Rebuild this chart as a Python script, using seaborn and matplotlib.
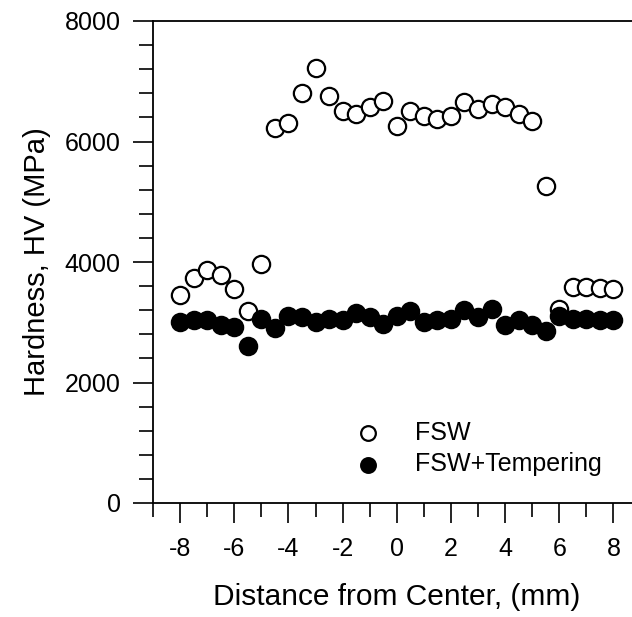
import seaborn as sns
import matplotlib.pyplot as plt
import pandas as pd
from matplotlib.ticker import MultipleLocator

# distance from weld center (mm)
distance = [-8, -7.5, -7, -6.5, -6, -5.5, -5, -4.5, -4, -3.5, -3, -2.5, -2, -1.5, -1, -0.5,
            0, 0.5, 1, 1.5, 2, 2.5, 3, 3.5, 4, 4.5, 5, 5.5, 6, 6.5, 7, 7.5, 8]

hv_fsw = [3460, 3730, 3860, 3790, 3560, 3190, 3970, 6220, 6300, 6800, 7220, 6760, 6500, 6450, 6580, 6670,
          6260, 6500, 6420, 6380, 6420, 6660, 6540, 6620, 6580, 6460, 6340, 5260, 3220, 3590, 3590, 3570, 3560]

hv_temper = [3000, 3040, 3040, 2960, 2920, 2600, 3050, 2910, 3110, 3090, 3000, 3050, 3040, 3160, 3090, 2970,
             3100, 3180, 3000, 3030, 3060, 3200, 3080, 3220, 2960, 3040, 2960, 2850, 3110, 3050, 3050, 3040, 3040]

df = pd.DataFrame({'Distance': distance, 'FSW': hv_fsw, 'FSW+Tempering': hv_temper})

sns.set_style('ticks')
plt.rcParams['font.family'] = ['Liberation Sans', 'DejaVu Sans']
plt.rcParams['axes.unicode_minus'] = False
for key in ['text.color', 'axes.labelcolor', 'xtick.color', 'ytick.color', 'axes.edgecolor']:
    plt.rcParams[key] = 'black'

fig = plt.figure(figsize=(6.32, 6.17), dpi=100)
ax = fig.add_axes([153 / 632, 114 / 617, 487.5 / 632, 482 / 617])

sns.scatterplot(data=df, x='Distance', y='FSW', ax=ax, s=155, color='white',
                edgecolor='black', linewidth=1.6, label='FSW', zorder=3)
sns.scatterplot(data=df, x='Distance', y='FSW+Tempering', ax=ax, s=155, color='black',
                edgecolor='black', linewidth=1.6, label='FSW+Tempering', zorder=4)

ax.set_xlim(-9, 9)
ax.set_ylim(0, 8000)
ax.xaxis.set_major_locator(MultipleLocator(2))
ax.xaxis.set_minor_locator(MultipleLocator(1))
ax.yaxis.set_major_locator(MultipleLocator(2000))
ax.yaxis.set_minor_locator(MultipleLocator(400))
ax.tick_params(which='major', direction='out', length=14.4, width=1.2, labelsize=18)
ax.tick_params(which='minor', direction='out', length=10, width=1.2)
ax.tick_params(axis='x', which='major', pad=10)
ax.tick_params(axis='y', which='major', pad=9)

for side in ['left', 'bottom', 'top']:
    ax.spines[side].set_linewidth(1.3)
ax.spines['right'].set_visible(False)

ax.set_xlabel('Distance from Center, (mm)', fontsize=21.5, labelpad=16)
ax.set_ylabel('Hardness, HV (MPa)', fontsize=21, labelpad=10)

ax.legend(loc='center left', bbox_to_anchor=(0.37, 0.113), frameon=False, fontsize=18,
          handlelength=1.0, handletextpad=1.38, labelspacing=0.3, markerscale=0.85)

plt.savefig('out.png', dpi=100)
